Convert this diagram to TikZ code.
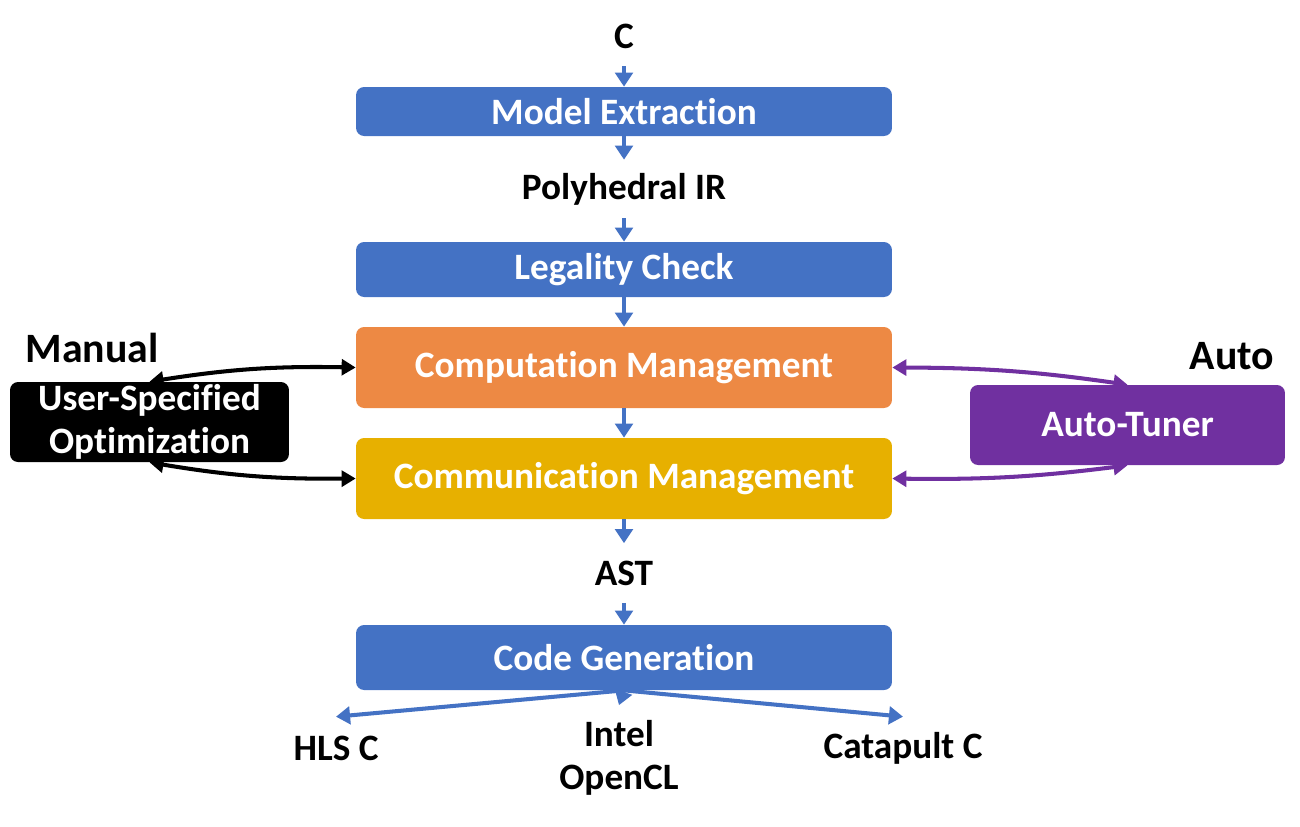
\documentclass[tikz,border=0pt]{standalone}
\usepackage{fontspec}
\setmainfont{Carlito}[Ligatures=NoCommon]
\usetikzlibrary{arrows.meta}
\definecolor{flowblue}{HTML}{4472C4}
\definecolor{compcol}{HTML}{ED8944}
\definecolor{commcol}{HTML}{E7B000}
\definecolor{tunecol}{HTML}{7030A0}

\begin{document}
\begin{tikzpicture}[x=0.02cm,y=-0.02cm,
	font=\bfseries\fontsize{21.2}{24.5}\selectfont,
	box/.style={rounded corners=0.16cm,minimum width=10.72cm,text=white,inner sep=0pt,align=center},
	lbl/.style={minimum height=1.2cm,inner sep=0pt},
	flow/.style={-{Triangle[length=8pt,width=10pt]},line width=2.3pt,flowblue},
	both/.style={{Triangle[length=8pt,width=9pt]}-{Triangle[length=8pt,width=9pt]},line width=2.3pt}]
\useasboundingbox (0,0) rectangle (1300,826);

\node[lbl] (src) at (624,36) {C};
\node[box,fill=flowblue,minimum height=0.98cm] (extract) at (624,111.5) {Model Extraction};
\node[lbl,minimum height=1.16cm] (poly) at (624,189) {Polyhedral IR};
\node[box,fill=flowblue,minimum height=1.1cm] (legal) at (624,269.5) {Legality Check};
\node[box,fill=compcol,minimum height=1.62cm] (comp) at (624,367.5) {Computation Management};
\node[box,fill=commcol,minimum height=1.62cm] (comm) at (624,478.5) {Communication Management};
\node[lbl,minimum height=1.18cm] (ast) at (624,573) {AST};
\node[box,fill=flowblue,minimum height=1.3cm] (gen) at (624,657.5) {Code Generation};

\node[box,fill=black,minimum width=5.58cm,minimum height=1.6cm] (user) at (149.5,422) {User-Specified\\Optimization};
\node[box,fill=tunecol,minimum width=6.3cm,minimum height=1.6cm] (tuner) at (1127.5,425) {Auto-Tuner};
\node[font=\bfseries\fontsize{23.8}{27}\selectfont] (manual) at (92,348) {Manual};
\node[font=\bfseries\fontsize{23.8}{27}\selectfont] (auto) at (1232,356) {Auto};

\node[lbl,minimum height=1.24cm] (hls) at (336,748) {HLS C};
\node[inner xsep=0pt,inner ysep=0.3cm,align=center] (intel) at (619,758) {Intel\\OpenCL};
\node[lbl,minimum height=1.24cm] (catapult) at (903,748) {Catapult C};

\draw[flow] (src) -- (extract);
\draw[flow] (extract) -- (poly);
\draw[flow] (poly) -- (legal);
\draw[flow] (legal) -- (comp);
\draw[flow] (comp) -- (comm);
\draw[flow] (comm) -- (ast);
\draw[flow] (ast) -- (gen);
\draw[flow] (gen.south) -- (hls.north);
\draw[flow] (gen.south) -- (intel.north);
\draw[flow] (gen.south) -- (catapult.north);

\draw[both,black] (user.north) to[bend left=5] (comp.west);
\draw[both,black] (user.south) to[bend right=5] (comm.west);
\draw[both,tunecol] (comp.east) to[bend left=4] (tuner.north);
\draw[both,tunecol] (comm.east) to[bend right=4] (tuner.south);
\end{tikzpicture}
\end{document}
